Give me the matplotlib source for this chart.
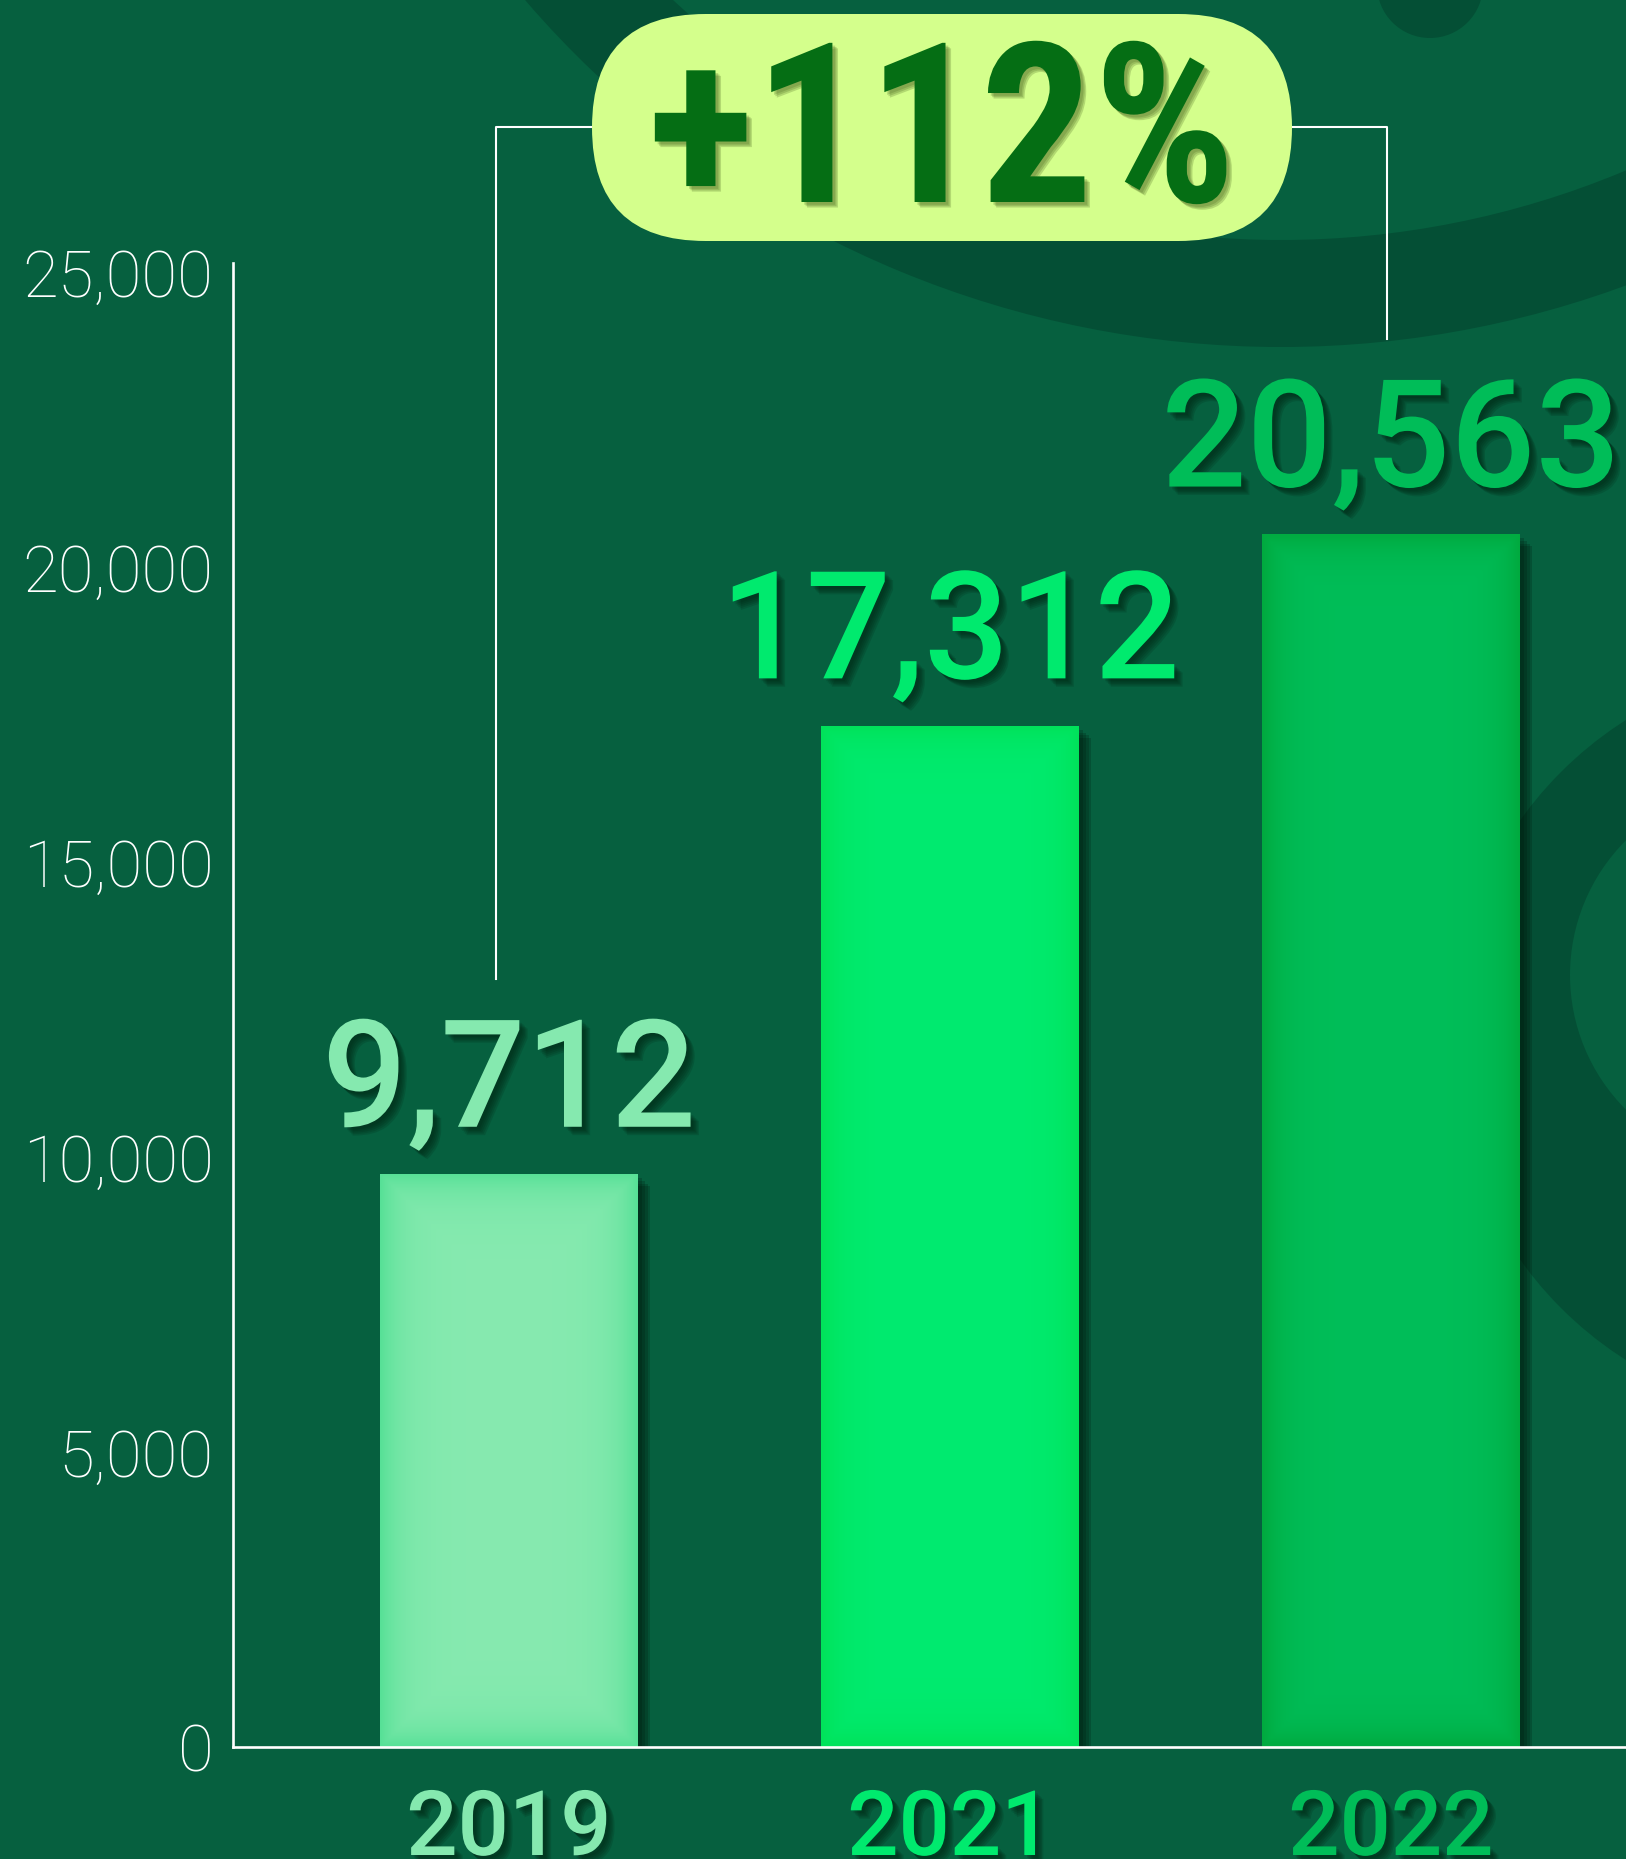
import matplotlib
matplotlib.use('Agg')
import matplotlib.pyplot as plt
import matplotlib.patheffects as pe
import matplotlib.transforms as mtransforms
from matplotlib.patches import FancyBboxPatch, Wedge, Circle
import numpy as np

# ---------------- data ----------------
years = ['2019', '2021', '2022']
values = [9712, 17312, 20563]
value_labels = ['9,712', '17,312', '20,563']
growth_label = '+112%'
yticks = [0, 5000, 10000, 15000, 20000, 25000]
ytick_labels = ['0', '5,000', '10,000', '15,000', '20,000', '25,000']

# ---------------- style ----------------
bar_center_colors = ['#87EAB0', '#00EB70', '#00BE59']
bar_edge_colors = ['#55E096', '#00E259', '#00A93E']
label_colors = ['#85E9AF', '#00EA6E', '#00BD58']
BG = '#06603F'
BAND = '#044F35'

W, H, DPI = 1626, 1859, 100
fig = plt.figure(figsize=(W / DPI, H / DPI), dpi=DPI)
fig.patch.set_facecolor(BG)
tr = fig.dpi_scale_trans


def inch(x, y):
    return (x / DPI, (H - y) / DPI)


def soft_shadow(color='#00200F', steps=(2, 3, 4, 5, 6), alpha=0.16):
    effs = [pe.SimplePatchShadow(offset=(o, -o), shadow_rgbFace=color, alpha=alpha) for o in steps]
    return effs + [pe.Normal()]


# background decoration (figure pixel space, y from top)
fig.add_artist(Wedge(inch(1281, -650), 997 / DPI, 0, 360, width=107 / DPI,
                     transform=tr, facecolor=BAND, edgecolor='none', zorder=-2))
fig.add_artist(Circle(inch(1430, -15), 53 / DPI, transform=tr,
                      facecolor=BAND, edgecolor='none', zorder=-2))
fig.add_artist(Circle(inch(1829, 1040), 379 / DPI, transform=tr,
                      facecolor=BAND, edgecolor='none', zorder=-2))
fig.add_artist(Circle(inch(1760, 975), 190 / DPI, transform=tr,
                      facecolor=BG, edgecolor='none', zorder=-1.5))

cond = ['Roboto Condensed', 'DejaVu Sans']
rob = ['Roboto', 'DejaVu Sans']

# ---------------- axes ----------------
PXU = 0.059          # pixels per unit on the value axis
YTOP = 25150
ax_left, ax_bottom_px = 233, 1747
ax_top_px = ax_bottom_px - YTOP * PXU
ax = fig.add_axes([ax_left / W, (H - ax_bottom_px) / H, 1 - ax_left / W,
                   (ax_bottom_px - ax_top_px) / H])
ax.set_facecolor('none')

x = np.arange(len(years))
bars = ax.bar(x, values, width=0.585, color=bar_edge_colors, zorder=3)
for b in bars:
    b.set_path_effects(soft_shadow(color='#001408', steps=(3, 5, 7, 9), alpha=0.2))

# glow gradient inside bars
for b, cc, ec in zip(bars, bar_center_colors, bar_edge_colors):
    x0, y0, w, h = b.get_x(), b.get_y(), b.get_width(), b.get_height()
    wpx, hpx = 258, h * PXU
    nx, ny = 120, 200
    u = (np.arange(nx) + 0.5) / nx
    v = (np.arange(ny) + 0.5) / ny
    U, V = np.meshgrid(u, v)
    d = np.minimum(np.minimum(U, 1 - U) * wpx, np.minimum(V, 1 - V) * hpx)
    t = np.exp(-d / 22.0)
    c1 = np.array(matplotlib.colors.to_rgb(cc))
    c2 = np.array(matplotlib.colors.to_rgb(ec))
    img = c1[None, None, :] * (1 - t[..., None]) + c2[None, None, :] * t[..., None]
    im = ax.imshow(img, extent=(x0, x0 + w, y0, y0 + h), origin='lower',
                   aspect='auto', zorder=3.5, interpolation='bilinear')
    im.set_clip_path(b)

ax.set_xlim((ax_left - 509) / 441, (W - 509) / 441)
ax.set_ylim(0, YTOP)

for s in ['top', 'right']:
    ax.spines[s].set_visible(False)
for s in ['left', 'bottom']:
    ax.spines[s].set_color('white')
    ax.spines[s].set_linewidth(1.9)
    ax.spines[s].set_zorder(4)

ax.set_xticks([])
ax.set_yticks(yticks, ytick_labels)
ax.tick_params(axis='y', length=0, pad=14, labelcolor='white')
for lab in ax.get_yticklabels():
    lab.set_fontfamily(rob)
    lab.set_fontweight('light')
    lab.set_fontsize(47)

# value labels
for i, (v, lbl, col) in enumerate(zip(values, value_labels, label_colors)):
    ax.annotate(lbl, (x[i], v), xytext=(0, 34), textcoords='offset points',
                ha='center', va='baseline', fontsize=108,
                fontfamily=rob, fontweight='medium', color=col,
                zorder=6, annotation_clip=False,
                path_effects=soft_shadow())

# year labels
blend = mtransforms.blended_transform_factory(ax.transData, fig.transFigure)
for i, (yr, col) in enumerate(zip(years, label_colors)):
    ax.text(x[i], (H - 1855) / H, yr, transform=blend, ha='center', va='baseline',
            fontsize=65, fontfamily=rob, fontweight='medium', color=col, clip_on=False,
            zorder=6, path_effects=soft_shadow())

# connector bracket
inv = ax.transData.inverted()
y_top = inv.transform(fig.transFigure.transform((0, (H - 127) / H)))[1]
xl, xr = x[0] - 0.03, x[-1] - 0.01
ax.plot([xl, xl, xr, xr], [values[0] + 3300, y_top, y_top, values[-1] + 3300],
        color='white', lw=1.5, clip_on=False, zorder=2)

# growth pill
fig.add_artist(FancyBboxPatch(inch(592, 241), 700 / DPI, 227 / DPI,
                              boxstyle=f"round,pad=0,rounding_size={113.5 / DPI}",
                              transform=tr, facecolor='#D4FF8C', edgecolor='none', zorder=5))
fig.text(942 / W, (H - 202) / H, growth_label, ha='center', va='baseline',
         fontsize=161, fontfamily=cond, fontweight='bold', color='#056E14', zorder=6,
         path_effects=soft_shadow(color='#4E6B22', steps=(2, 3, 4), alpha=0.25))

fig.savefig('out.png', dpi=DPI, facecolor=fig.get_facecolor())
